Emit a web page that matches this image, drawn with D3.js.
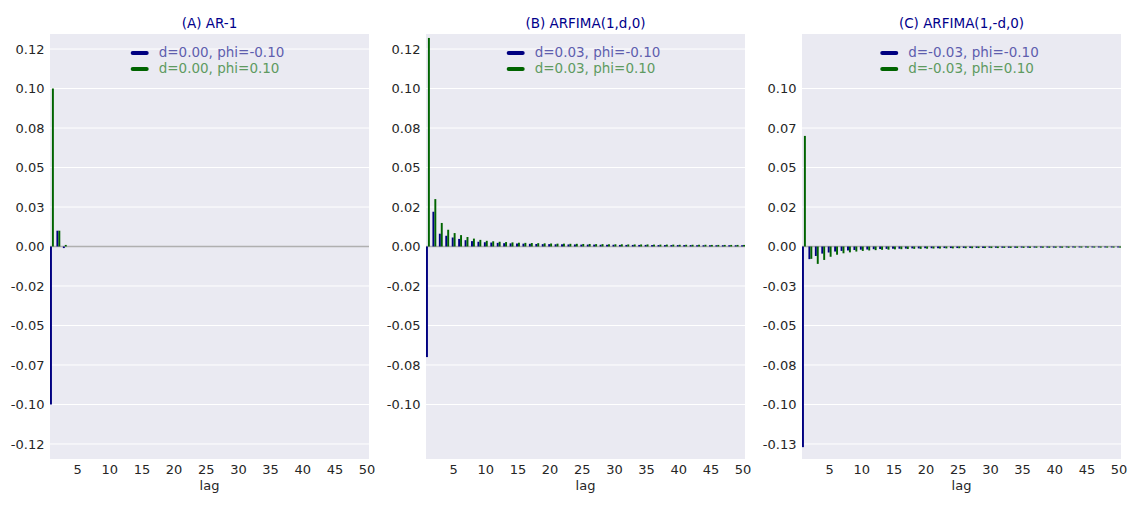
<!DOCTYPE html>
<html lang="en">
<head>
  <meta charset="UTF-8">
  <title>ACF panels</title>
  <style>
    *{ margin:0; padding:0; box-sizing:border-box }
    html, body { width:1135px; height:505px; background:#fff; overflow:hidden }
    svg { position:absolute; top:0; left:0 }
    text { font-family:"DejaVu Sans", sans-serif; fill:#262626 }
    .tick { font-size:13px }
    .ttl  { font-size:13.5px; fill:#00008b }
    .leg  { font-size:13.5px }
  </style>
  <script src="https://cdn.jsdelivr.net/npm/d3@7/dist/d3.min.js"></script>
</head>
<body>
  <svg id="chart"></svg>
  <script>
    const W = 1135, H = 505;

    // lags 1..50
    const lags = d3.range(1, 51);
    const xTicks = [5,10,15,20,25,30,35,40,45,50];

    // (A) AR-1
    const aNeg = [-0.100, 0.010, -0.001].concat(d3.range(47).map(() => 0));
    const aPos = [0.100, 0.010, 0.001].concat(d3.range(47).map(() => 0));

    // (B) ARFIMA(1,d,0)
    const bNeg = [-0.070, 0.022, 0.0081, 0.0068, 0.0057, 0.0048, 0.0040, 0.0034, 0.0030, 0.0027,
                  0.0025, 0.0023, 0.0021, 0.0020, 0.0019, 0.0018, 0.0017, 0.0016, 0.0015, 0.0015,
                  0.0014, 0.0014, 0.0013, 0.0013, 0.0012, 0.0012, 0.0012, 0.0011, 0.0011, 0.0011,
                  0.0010, 0.0010, 0.0010, 0.0010, 0.0010, 0.0009, 0.0009, 0.0009, 0.0009, 0.0009,
                  0.0009, 0.0009, 0.0008, 0.0008, 0.0008, 0.0008, 0.0008, 0.0008, 0.0008, 0.0008];
    const bPos = [0.132, 0.030, 0.0149, 0.0106, 0.0085, 0.0072, 0.0060, 0.0050, 0.0042, 0.0036,
                  0.0033, 0.0030, 0.0028, 0.0026, 0.0024, 0.0023, 0.0022, 0.0021, 0.0020, 0.0019,
                  0.0018, 0.0018, 0.0017, 0.0017, 0.0016, 0.0016, 0.0015, 0.0015, 0.0014, 0.0014,
                  0.0014, 0.0013, 0.0013, 0.0013, 0.0013, 0.0012, 0.0012, 0.0012, 0.0012, 0.0011,
                  0.0011, 0.0011, 0.0011, 0.0011, 0.0010, 0.0010, 0.0010, 0.0010, 0.0010, 0.0010];

    // (C) ARFIMA(1,-d,0)
    const cNeg = [-0.127, -0.0080, -0.0060, -0.0045, -0.0038, -0.0032, -0.0028, -0.0025, -0.0022, -0.0020,
                  -0.0019, -0.0017, -0.0016, -0.0015, -0.0014, -0.0014, -0.0013, -0.0012, -0.0012, -0.0011,
                  -0.0011, -0.0011, -0.0010, -0.0010, -0.0010, -0.0009, -0.0009, -0.0009, -0.0009, -0.0008,
                  -0.0008, -0.0008, -0.0008, -0.0008, -0.0007, -0.0007, -0.0007, -0.0007, -0.0007, -0.0007,
                  -0.0007, -0.0006, -0.0006, -0.0006, -0.0006, -0.0006, -0.0006, -0.0006, -0.0006, -0.0006];
    const cPos = [0.070, -0.0078, -0.0110, -0.0085, -0.0065, -0.0052, -0.0043, -0.0037, -0.0032, -0.0028,
                  -0.0025, -0.0023, -0.0021, -0.0020, -0.0018, -0.0017, -0.0016, -0.0015, -0.0015, -0.0014,
                  -0.0013, -0.0013, -0.0012, -0.0012, -0.0011, -0.0011, -0.0011, -0.0010, -0.0010, -0.0010,
                  -0.0010, -0.0009, -0.0009, -0.0009, -0.0009, -0.0009, -0.0008, -0.0008, -0.0008, -0.0008,
                  -0.0008, -0.0008, -0.0007, -0.0007, -0.0007, -0.0007, -0.0007, -0.0007, -0.0007, -0.0007];

    // y ticks (values and the labels as printed)
    const yTicksA = [0.125, 0.1, 0.075, 0.05, 0.025, 0, -0.025, -0.05, -0.075, -0.1, -0.125];
    const yLabA   = ["0.12","0.10","0.08","0.05","0.03","0.00","-0.02","-0.05","-0.07","-0.10","-0.12"];
    const yTicksB = [0.125, 0.1, 0.075, 0.05, 0.025, 0, -0.025, -0.05, -0.075, -0.1];
    const yLabB   = ["0.12","0.10","0.08","0.05","0.02","0.00","-0.02","-0.05","-0.08","-0.10"];
    const yTicksC = [0.1, 0.075, 0.05, 0.025, 0, -0.025, -0.05, -0.075, -0.1, -0.125];
    const yLabC   = ["0.10","0.07","0.05","0.02","0.00","-0.03","-0.05","-0.08","-0.10","-0.13"];

    const titles = ["(A) AR-1", "(B) ARFIMA(1,d,0)", "(C) ARFIMA(1,-d,0)"];
    const legNeg = ["d=0.00, phi=-0.10", "d=0.03, phi=-0.10", "d=-0.03, phi=-0.10"];
    const legPos = ["d=0.00, phi=0.10", "d=0.03, phi=0.10", "d=-0.03, phi=0.10"];

    const panels = [
      { left:50,  neg:aNeg, pos:aPos, ticks:yTicksA, labs:yLabA },
      { left:426, neg:bNeg, pos:bPos, ticks:yTicksB, labs:yLabB },
      { left:802, neg:cNeg, pos:cPos, ticks:yTicksC, labs:yLabC }
    ];

    const COL_NEG = "#000080", COL_POS = "#006400";
    const TXT_NEG = "#5e5eae", TXT_POS = "#5e9a61";
    const topY = 34, pw = 319, ph = 425, bw = 0.3;

    const svg = d3.select("#chart").attr("width", W).attr("height", H);

    panels.forEach((p, k) => {
      const g = svg.append("g").attr("transform", `translate(${p.left},${topY})`);
      const x = d3.scaleLinear().domain([0.7, 50.3]).range([0, pw]);
      const y = d3.scaleLinear().domain([-0.1345, 0.1345]).range([ph, 0]);

      g.append("rect").attr("width", pw).attr("height", ph).attr("fill", "#eaeaf2");

      // grid + y labels
      g.selectAll("line.grid").data(p.ticks).join("line")
        .attr("class", "grid")
        .attr("x1", 0).attr("x2", pw)
        .attr("y1", d => y(d)).attr("y2", d => y(d))
        .attr("stroke", "#fff").attr("stroke-width", 1);
      g.selectAll("text.yl").data(p.ticks).join("text")
        .attr("class", "tick yl")
        .attr("x", -5.5).attr("y", d => y(d)).attr("dy", "0.36em")
        .attr("text-anchor", "end")
        .text((d, i) => p.labs[i]);

      // x labels
      g.selectAll("text.xl").data(xTicks).join("text")
        .attr("class", "tick xl")
        .attr("x", d => x(d)).attr("y", ph + 15)
        .attr("text-anchor", "middle")
        .text(d => d);
      g.append("text").attr("class", "tick")
        .attr("x", pw / 2).attr("y", ph + 31)
        .attr("text-anchor", "middle").text("lag");

      // zero line
      g.append("line").attr("x1", 0).attr("x2", pw)
        .attr("y1", y(0)).attr("y2", y(0))
        .attr("stroke", "#b0b0b0").attr("stroke-width", 1.3);

      // bars
      g.selectAll("rect.neg").data(lags).join("rect")
        .attr("class", "neg")
        .attr("x", d => x(d - bw)).attr("width", d => x(d) - x(d - bw))
        .attr("y", (d, i) => y(Math.max(0, p.neg[i])))
        .attr("height", (d, i) => Math.abs(y(p.neg[i]) - y(0)))
        .attr("fill", COL_NEG);
      g.selectAll("rect.pos").data(lags).join("rect")
        .attr("class", "pos")
        .attr("x", d => x(d)).attr("width", d => x(d + bw) - x(d))
        .attr("y", (d, i) => y(Math.max(0, p.pos[i])))
        .attr("height", (d, i) => Math.abs(y(p.pos[i]) - y(0)))
        .attr("fill", COL_POS);

      // title
      g.append("text").attr("class", "ttl")
        .attr("x", pw / 2).attr("y", -6.5)
        .attr("text-anchor", "middle").text(titles[k]);

      // legend, centred at top
      const lg = g.append("g");
      const rows = [[legNeg[k], COL_NEG, TXT_NEG], [legPos[k], COL_POS, TXT_POS]];
      rows.forEach((r, j) => {
        const cy = 19 + j * 16;
        lg.append("line").attr("x1", 2).attr("x2", 16)
          .attr("y1", cy).attr("y2", cy)
          .attr("stroke", r[1]).attr("stroke-width", 4)
          .attr("stroke-linecap", "round");
        lg.append("text").attr("class", "leg")
          .attr("x", 28).attr("y", cy).attr("dy", "0.33em")
          .style("fill", r[2]).text(r[0]);
      });
      const bb = lg.node().getBBox();
      lg.attr("transform", `translate(${pw / 2 - (bb.x + bb.width / 2) - 1},0)`);
    });
  </script>
</body>
</html>
